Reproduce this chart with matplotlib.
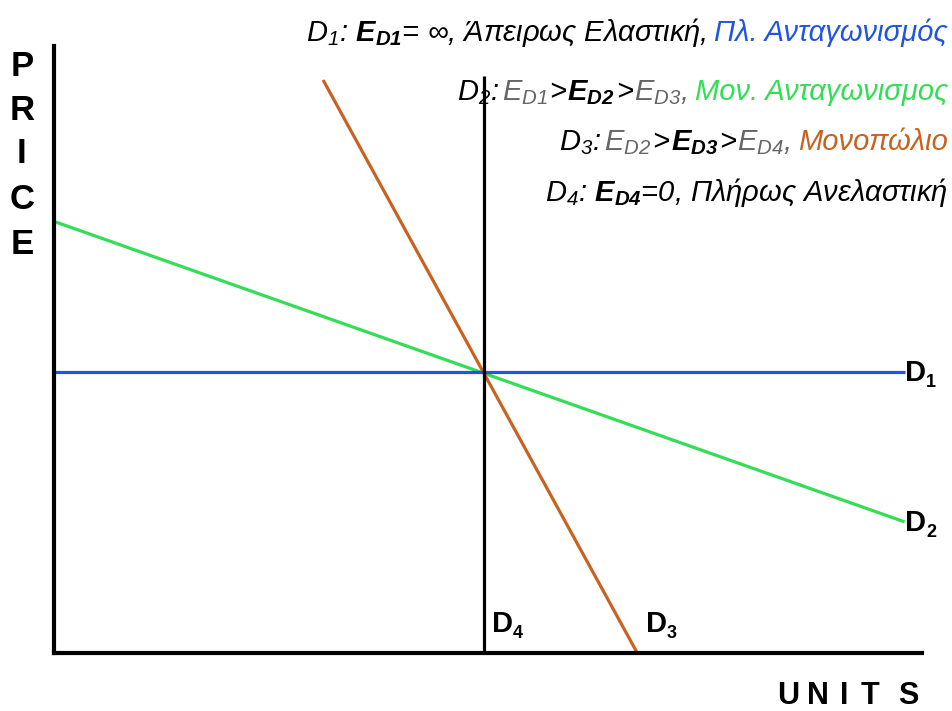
import matplotlib
matplotlib.use("Agg")
import matplotlib.pyplot as plt
from matplotlib import font_manager

# font: narrow Arial look-alike if it is there
names = {f.name for f in font_manager.fontManager.ttflist}
FONT = "Liberation Sans Narrow" if "Liberation Sans Narrow" in names else "Liberation Sans"

plt.rcParams["font.family"] = [FONT, "DejaVu Sans"]
plt.rcParams["mathtext.fontset"] = "custom"
plt.rcParams["mathtext.rm"] = FONT + ":italic"
plt.rcParams["mathtext.it"] = FONT + ":italic"
plt.rcParams["mathtext.bf"] = FONT + ":italic:bold"

# demand curves (x = units, y = price), axis runs 0..10 on both
d1_x = [0.0, 9.80]
d1_y = [4.63, 4.63]
d2_x = [0.0, 9.80]
d2_y = [7.11, 2.16]
d3_x = [3.10, 6.72]
d3_y = [9.44, 0.0]
d4_x = [4.95, 4.95]
d4_y = [0.0, 9.50]

BLUE = "#1f55e0"
GREEN = "#33dd55"
ORANGE = "#c8621f"
GRAY = "#666666"
K = "black"

# legend lines: (text, colour, gap before in px)
line1 = [(r"$D_1$: $\mathbf{E_{D1}}$= ∞, Άπειρως Ελαστική,", K, 0),
         ("Πλ. Ανταγωνισμός", BLUE, 8)]
line2 = [(r"$D_2$:", K, 0), (r"$E_{D1}$", GRAY, 3), (">", K, 1),
         (r"$\mathbf{E_{D2}}$", K, 1), (">", K, 1), (r"$E_{D3}$,", GRAY, 1),
         ("Μον. Ανταγωνισμος", GREEN, 8)]
line3 = [(r"$D_3$:", K, 0), (r"$E_{D2}$", GRAY, 3), (">", K, 1),
         (r"$\mathbf{E_{D3}}$", K, 1), (">", K, 1), (r"$E_{D4}$,", GRAY, 1),
         ("Μονοπώλιο", ORANGE, 8)]
line4 = [(r"$D_4$: $\mathbf{E_{D4}}$=0, Πλήρως Ανελαστική", K, 0)]
lines = [line1, line2, line3, line4]
line_base = [41, 100, 150, 201]

W, H = 953, 711
fig = plt.figure(figsize=(W / 100, H / 100), dpi=100)


def px(x, y):
    return x / W, 1 - y / H


ax = fig.add_axes([54 / W, (H - 653) / H, (922 - 54) / W, (653 - 46) / H])
ax.set_xlim(0, 10)
ax.set_ylim(0, 10)
for s in ["top", "right"]:
    ax.spines[s].set_visible(False)
ax.spines["left"].set_linewidth(3)
ax.spines["bottom"].set_linewidth(3)
ax.set_xticks([])
ax.set_yticks([])

ax.plot(d2_x, d2_y, color=GREEN, lw=2.3, solid_capstyle="butt")
ax.plot(d3_x, d3_y, color=ORANGE, lw=2.3, solid_capstyle="butt")
ax.plot(d1_x, d1_y, color=BLUE, lw=2.3, solid_capstyle="butt")
ax.plot(d4_x, d4_y, color=K, lw=2.3, solid_capstyle="butt")

# curve labels
def dlabel(x, y, sub):
    fig.text(*px(x, y), "D", fontsize=21, fontweight="bold",
             fontfamily="Liberation Sans", ha="left", va="baseline")
    fig.text(*px(x + 21, y + 6), sub, fontsize=13, fontweight="bold",
             fontfamily="Liberation Sans", ha="left", va="baseline")

dlabel(905, 381, "1")
dlabel(905, 531, "2")
dlabel(492, 632, "4")
dlabel(646, 632, "3")

# axis titles, letter by letter
for ch, y in zip("PRICE", [76, 120, 163, 209, 254]):
    fig.text(*px(22, y), ch, fontsize=25, fontweight="bold",
             fontfamily="Liberation Sans", ha="center", va="baseline")
for ch, x in zip("UNITS", [788, 818, 844, 870, 908]):
    fig.text(*px(x, 704), ch, fontsize=22, fontweight="bold",
             fontfamily="Liberation Sans", ha="center", va="baseline")

# top right text, laid out right to left
fig.canvas.draw()
r = fig.canvas.get_renderer()
for segs, yb in zip(lines, line_base):
    xr = 948
    nxt_gap = 0
    for txt, col, gap in reversed(segs):
        t = fig.text(*px(xr - nxt_gap, yb), txt, color=col, fontsize=21,
                     style="italic", ha="right", va="baseline")
        w = t.get_window_extent(r).width
        xr = xr - nxt_gap - w
        nxt_gap = gap

fig.savefig("out.png", dpi=100)
